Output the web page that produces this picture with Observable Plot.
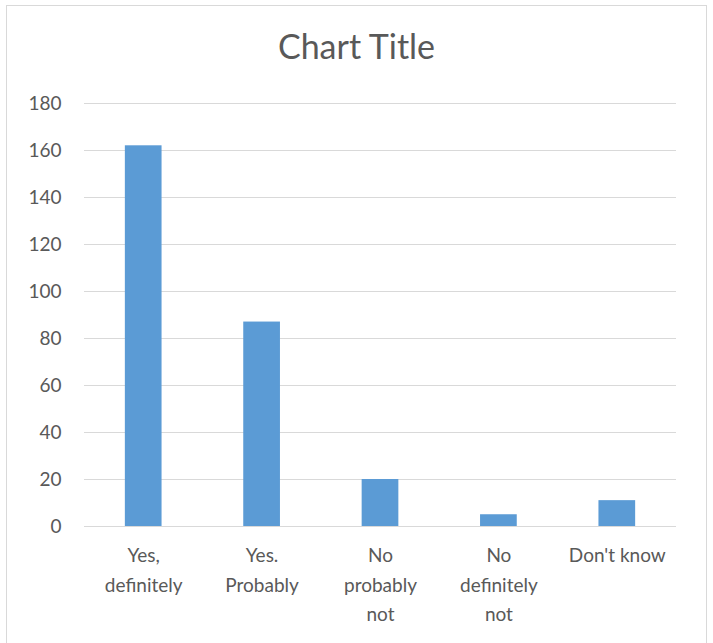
<!DOCTYPE html>
<html><head><meta charset="utf-8">
<script src="https://cdn.jsdelivr.net/npm/d3@7"></script>
<script src="https://cdn.jsdelivr.net/npm/@observablehq/plot@0.6"></script>
<style>
body{margin:0;background:#fff;overflow:hidden;}
#wrap{position:relative;width:713px;height:643px;overflow:hidden;font-family:Lato,"Open Sans",sans-serif;}
#border{position:absolute;left:6px;top:5px;width:701px;height:645px;border:1px solid #D9D9D9;box-sizing:border-box;}
#title{position:absolute;left:0;width:713px;top:26px;text-align:center;font-size:34px;line-height:1.2;color:#595959;}
#wrap svg{position:absolute;left:0;top:0;}
</style></head><body>
<div id="wrap"><div id="border"></div><div id="title">Chart Title</div></div>
<script>
const categories = ["Yes,\ndefinitely", "Yes.\nProbably", "No\nprobably\nnot", "No\ndefinitely\nnot", "Don't know"];
const values = [162, 87, 20, 5, 11];
const yTicks = [0, 20, 40, 60, 80, 100, 120, 140, 160, 180];
const data = categories.map((c, i) => ({category: c, value: values[i]}));
const chart = Plot.plot({
  width: 713, height: 643,
  marginTop: 103, marginBottom: 117, marginLeft: 84, marginRight: 37,
  style: {fontFamily: 'Lato, "Open Sans", sans-serif', fontSize: "19px", color: "#595959", background: "transparent", overflow: "visible"},
  x: {domain: categories, paddingInner: 0.69, paddingOuter: 0.345, round: false, label: null},
  y: {domain: [0, 180], label: null},
  marks: [
    Plot.gridY(yTicks, {stroke: "#D9D9D9", strokeOpacity: 1, strokeWidth: 1}),
    Plot.barY(data, {x: "category", y: "value", fill: "#5B9BD5"}),
    Plot.axisY(yTicks, {tickSize: 0, tickPadding: 23, label: null}),
    Plot.axisX({tickSize: 0, tickPadding: 15, label: null, lineHeight: 1.55})
  ]
});
document.getElementById("wrap").appendChild(chart);
</script>
</body></html>
